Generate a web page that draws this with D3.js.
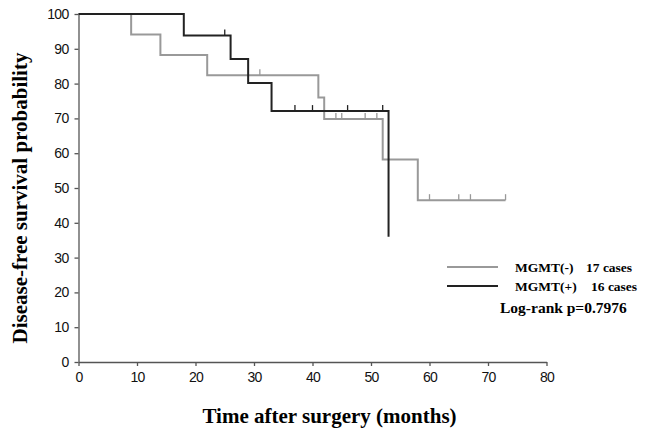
<!DOCTYPE html>
<html><head><meta charset="utf-8">
<script src="https://cdn.jsdelivr.net/npm/d3@7"></script>
<style>body{margin:0;background:#fff}</style>
</head><body>
<svg id="c" width="646" height="435"></svg>
<script>
// Step points [time, survival%]
const negSteps = [[0,100],[9,94.1],[14,88.2],[22,82.4],[41,76.0],[42,69.8],[52,58.2],[58,46.5],[73,46.5]];
const negCensor = [[31,82.4],[44,69.8],[45,69.8],[49,69.8],[51,69.8],[60,46.5],[65,46.5],[67,46.5],[73,46.5]];
const posSteps = [[0,100],[18,93.8],[26,87.1],[29,80.2],[33,72.1],[53,36]];
const posCensor = [[25,93.8],[37,72.1],[40,72.1],[46,72.1],[52,72.1]];
const xTicks = [0,10,20,30,40,50,60,70,80];
const yTicks = [0,10,20,30,40,50,60,70,80,90,100];
const legendLabels = ["MGMT(-)", "MGMT(+)"];
const legendCases = ["17 cases", "16 cases"];
const pText = "Log-rank p=0.7976";

const svg = d3.select("#c");
const x = d3.scaleLinear().domain([0,80]).range([78.5,546.5]);
const y = d3.scaleLinear().domain([0,100]).range([362,14]);
const tickFont = "'Liberation Sans Narrow','Arial Narrow','Liberation Sans',sans-serif";
const serif = "'Liberation Serif','Times New Roman',serif";

const xa = svg.append("g").attr("transform","translate(0,362)")
  .call(d3.axisBottom(x).tickValues(xTicks).tickSize(4).tickPadding(4).tickSizeOuter(0));
const ya = svg.append("g").attr("transform","translate(78.5,0)")
  .call(d3.axisLeft(y).tickValues(yTicks).tickSize(4).tickPadding(6).tickSizeOuter(0));
[xa,ya].forEach(a=>{
  a.selectAll("path,line").attr("stroke","#555").attr("stroke-width",1.3);
  a.selectAll("text").attr("font-family",tickFont).attr("font-size",14)
    .attr("letter-spacing","-0.7").attr("fill","#111");
});
xa.selectAll("text").attr("dy","0.85em");

const line = d3.line().x(d=>x(d[0])).y(d=>y(d[1])).curve(d3.curveStepAfter);
function drawCurve(steps, censor, color){
  svg.append("path").datum(steps).attr("d",line).attr("fill","none")
    .attr("stroke",color).attr("stroke-width",2);
  svg.append("g").selectAll("line").data(censor).join("line")
    .attr("x1",d=>x(d[0])).attr("x2",d=>x(d[0]))
    .attr("y1",d=>y(d[1])).attr("y2",d=>y(d[1])-6)
    .attr("stroke",color).attr("stroke-width",1.3);
}
drawCurve(negSteps, negCensor, "#999");
drawCurve(posSteps, posCensor, "#222");

const colors = ["#999","#222"];
legendLabels.forEach((l,i)=>{
  const yy = 267 + i*19;
  svg.append("line").attr("x1",447).attr("x2",498).attr("y1",yy).attr("y2",yy)
    .attr("stroke",colors[i]).attr("stroke-width",2.2);
  svg.append("text").attr("x",515).attr("y",yy+5).text(l)
    .attr("font-family",serif).attr("font-weight","bold").attr("font-size",13.5);
  svg.append("text").attr("x", i===0?586:591).attr("y",yy+5).text(legendCases[i])
    .attr("font-family",serif).attr("font-weight","bold").attr("font-size",13.5);
});
svg.append("text").attr("x",500).attr("y",313).text(pText)
  .attr("font-family",serif).attr("font-weight","bold").attr("font-size",15.5);

svg.append("text").attr("x",329.5).attr("y",423).attr("text-anchor","middle")
  .text("Time after surgery (months)")
  .attr("font-family",serif).attr("font-weight","bold").attr("font-size",21);
svg.append("text").attr("transform","translate(27,198) rotate(-90)").attr("text-anchor","middle")
  .text("Disease-free survival probability")
  .attr("font-family",serif).attr("font-weight","bold").attr("font-size",21);
</script>
</body></html>
